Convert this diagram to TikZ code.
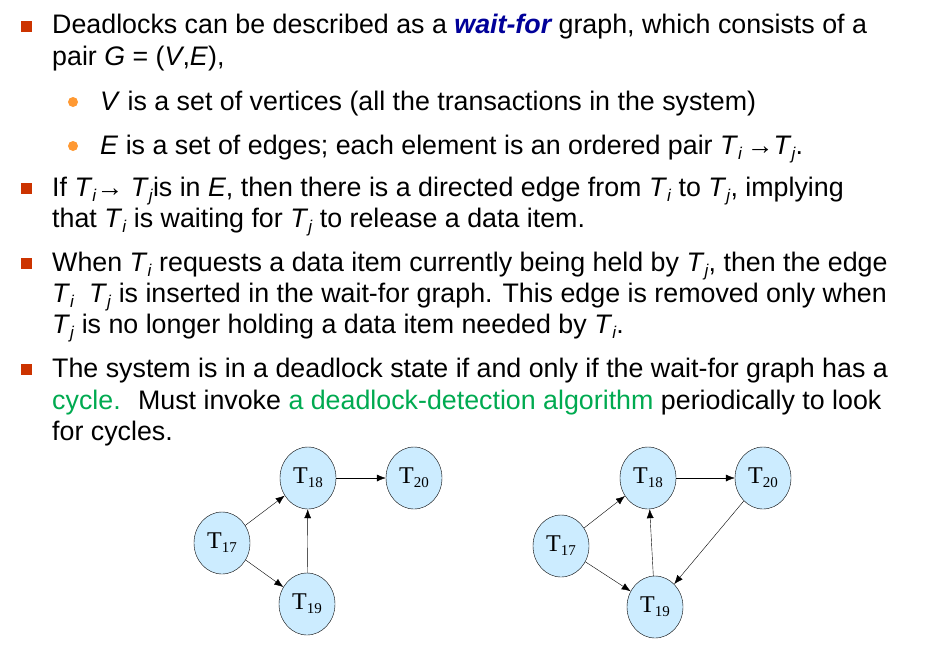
\documentclass[tikz,border=0pt]{standalone}
\usepackage{fontspec}
\setmainfont{Liberation Sans}
\newfontfamily\serifnode{Liberation Serif}
\usetikzlibrary{arrows.meta}
\definecolor{sqbullet}{RGB}{204,51,0}
\definecolor{dotbullet}{RGB}{255,153,51}
\definecolor{keyblue}{RGB}{0,0,153}
\definecolor{hlgreen}{RGB}{0,170,80}
\definecolor{nodefill}{RGB}{204,236,255}
\newcommand{\tx}[1]{\textit{T}\raisebox{-5pt}{\fontsize{17}{17}\selectfont\textit{#1}}}
\newcommand{\tn}[1]{T\raisebox{-4pt}{\fontsize{15}{15}\selectfont #1}}
\tikzset{
  line/.style={anchor=base west, inner sep=0pt, font=\fontsize{26.8}{28}\selectfont},
  trans/.style={ellipse, draw, fill=nodefill, minimum width=56pt, minimum height=62pt,
    inner sep=0pt, font=\serifnode\fontsize{24}{24}\selectfont},
  wf/.style={-{Latex[length=9pt,width=7pt]}}
}
\usetikzlibrary{shapes.geometric}
\begin{document}
\begin{tikzpicture}[x=1pt,y=-1pt]
\useasboundingbox (0,0) rectangle (939,646);
% bullets
\foreach \y in {27,189,264,370}
  \fill[sqbullet] (21,\y-6) rectangle (32,\y+5);
\foreach \y in {102,146}
  \fill[dotbullet] (73,\y) circle (5);
% text lines
\node[line] (l1) at (52,33) {Deadlocks can be described as a \textcolor{keyblue}{\bfseries\itshape wait-for} graph, which consists of a};
\node[line] (l2) at (52,65) {pair \textit{G} = (\textit{V},\textit{E}),};
\node[line] (l3) at (100,110) {\textit{V} is a set of vertices (all the transactions in the system)};
\node[line] (l4) at (100,154) {\textit{E} is a set of edges; each element is an ordered pair \tx{i}\,→\tx{j}.};
\node[line] (l5) at (52,196) {If \tx{i}→ \tx{j}is in \textit{E}, then there is a directed edge from \tx{i} to \tx{j}, implying};
\node[line] (l6) at (52,227) {that \tx{i} is waiting for \tx{j} to release a data item.};
\node[line] (l7) at (52,271) {When \tx{i} requests a data item currently being held by \tx{j}, then the edge};
\node[line] (l8) at (52,302) {\tx{i}\ \ \tx{j} is inserted in the wait-for graph. This edge is removed only when};
\node[line] (l9) at (52,333) {\tx{j} is no longer holding a data item needed by \tx{i}.};
\node[line] (l10) at (52,377) {The system is in a deadlock state if and only if the wait-for graph has a};
\node[line] (l11) at (52,409) {\textcolor{hlgreen}{cycle.} \ Must invoke \textcolor{hlgreen}{a deadlock-detection algorithm} periodically to look};
\node[line] (l12) at (52,440) {for cycles.};
% left graph
\node[trans] (a17) at (222,543) {\tn{17}};
\node[trans] (a18) at (308,478) {\tn{18}};
\node[trans] (a20) at (414,478) {\tn{20}};
\node[trans] (a19) at (307,604) {\tn{19}};
\draw[wf] (a17) -- (a18);
\draw[wf] (a17) -- (a19);
\draw[wf] (a19) -- (a18);
\draw[wf] (a18) -- (a20);
% right graph
\node[trans] (b17) at (561,546) {\tn{17}};
\node[trans] (b18) at (648,478) {\tn{18}};
\node[trans] (b20) at (763,478) {\tn{20}};
\node[trans] (b19) at (655,607) {\tn{19}};
\draw[wf] (b17) -- (b18);
\draw[wf] (b17) -- (b19);
\draw[wf] (b19) -- (b18);
\draw[wf] (b18) -- (b20);
\draw[wf] (b20) -- (b19);
\end{tikzpicture}
\end{document}
